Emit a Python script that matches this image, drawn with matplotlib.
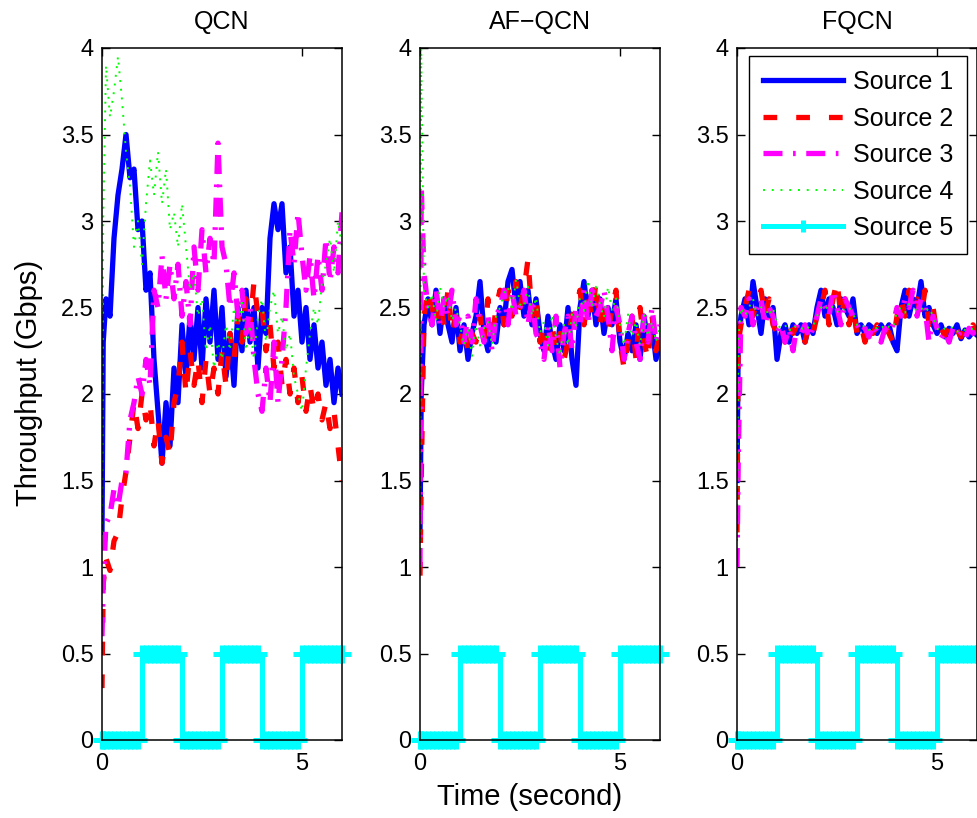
import matplotlib
matplotlib.use("Agg")
import matplotlib.pyplot as plt

plt.rcParams['font.family'] = ['Liberation Sans', 'DejaVu Sans']

# ---- data (time in s, throughput in Gbps) ----
t = [0, 0.03, 0.1, 0.2, 0.3, 0.4, 0.5, 0.6, 0.7, 0.8, 0.9,
     1.0, 1.1, 1.2, 1.3, 1.4, 1.5, 1.6, 1.7, 1.8, 1.9,
     2.0, 2.1, 2.2, 2.3, 2.4, 2.5, 2.6, 2.7, 2.8, 2.9,
     3.0, 3.1, 3.2, 3.3, 3.4, 3.5, 3.6, 3.7, 3.8, 3.9,
     4.0, 4.1, 4.2, 4.3, 4.4, 4.5, 4.6, 4.7, 4.8, 4.9,
     5.0, 5.1, 5.2, 5.3, 5.4, 5.5, 5.6, 5.7, 5.8, 5.9, 6.0]

titles = ['QCN', 'AF\u2212QCN', 'FQCN']
labels = ['Source 1', 'Source 2', 'Source 3', 'Source 4', 'Source 5']

qcn_s1 = [1.2, 2.3, 2.55, 2.45, 2.9, 3.15, 3.3, 3.5, 3.25, 3.3, 2.95,
          3.0, 2.6, 2.7, 2.2, 1.9, 1.6, 1.95, 1.7, 2.15, 1.95,
          2.4, 2.1, 2.45, 2.2, 2.5, 2.15, 2.55, 2.3, 2.6, 2.2,
          2.5, 2.1, 2.35, 2.05, 2.5, 2.25, 2.6, 2.3, 2.5, 2.15,
          2.5, 2.35, 2.9, 3.1, 2.95, 3.1, 2.7, 2.85, 2.45, 2.6,
          2.3, 2.5, 2.2, 2.4, 2.15, 2.3, 2.05, 2.2, 1.95, 2.15, 2.0]
qcn_s2 = [0.3, 0.9, 1.05, 0.98, 1.15, 1.2, 1.4, 1.55, 1.75, 1.95, 1.8,
          2.0, 1.85, 1.95, 1.7, 1.85, 1.6, 1.75, 1.65, 1.95, 2.05,
          2.3, 2.0, 2.25, 2.05, 2.2, 1.95, 2.2, 2.0, 2.15, 2.0,
          2.25, 2.05, 2.35, 2.2, 2.45, 2.3, 2.55, 2.4, 2.65, 2.45,
          2.5, 2.25, 2.4, 2.15, 2.3, 2.05, 2.2, 2.0, 2.15, 1.95,
          2.1, 1.9, 2.05, 1.9, 2.0, 1.85, 1.95, 1.8, 1.9, 1.7, 1.5]
qcn_s3 = [0.6, 0.9, 1.25, 1.3, 1.45, 1.35, 1.5, 1.55, 1.85, 1.95, 2.1,
          2.0, 2.2, 2.05, 2.6, 2.5, 2.8, 2.55, 2.75, 2.55, 2.75,
          2.45, 2.65, 2.4, 2.85, 2.6, 2.95, 2.7, 2.9, 2.75, 3.45,
          2.85, 2.75, 2.5, 2.7, 2.45, 2.6, 2.35, 2.5, 2.2, 2.0,
          1.9, 2.15, 1.95, 2.3, 1.95, 2.2, 2.5, 2.95, 2.75, 3.05,
          2.8, 2.6, 2.8, 2.55, 2.8, 2.6, 2.9, 2.65, 2.85, 2.7, 3.05]
qcn_s4 = [1.2, 3.0, 3.9, 3.6, 3.75, 3.95, 3.7, 3.4, 3.2, 2.85, 3.0,
          2.75, 3.1, 3.35, 3.15, 3.4, 3.1, 3.3, 2.95, 3.05, 2.85,
          3.1, 2.85, 2.6, 2.7, 2.45, 2.55, 2.25, 2.4, 2.15, 2.3,
          2.2, 2.4, 2.25, 2.5, 2.35, 2.55, 2.25, 2.4, 2.2, 2.45,
          2.55, 2.3, 2.5, 2.6, 2.35, 2.45, 2.25, 2.35, 2.1, 2.0,
          1.9, 2.15, 2.35, 2.5, 2.4, 2.65, 2.75, 2.9, 2.7, 3.0, 2.85]

af_s1 = [1.2, 2.0, 2.4, 2.55, 2.4, 2.6, 2.35, 2.55, 2.4, 2.3, 2.5,
         2.25, 2.4, 2.2, 2.35, 2.45, 2.65, 2.35, 2.25, 2.4, 2.3,
         2.5, 2.4, 2.65, 2.72, 2.5, 2.65, 2.45, 2.6, 2.4, 2.55,
         2.35, 2.25, 2.45, 2.3, 2.2, 2.4, 2.25, 2.5, 2.2, 2.05,
         2.5, 2.65, 2.45, 2.6, 2.4, 2.55, 2.35, 2.5, 2.4, 2.55,
         2.3, 2.2, 2.35, 2.25, 2.4, 2.2, 2.45, 2.3, 2.4, 2.2, 2.3]
af_s2 = [0.95, 1.5, 2.45, 2.6, 2.5, 2.4, 2.55, 2.4, 2.6, 2.35, 2.45,
         2.3, 2.4, 2.25, 2.35, 2.3, 2.45, 2.3, 2.55, 2.3, 2.5,
         2.6, 2.4, 2.6, 2.45, 2.65, 2.5, 2.6, 2.78, 2.45, 2.55,
         2.3, 2.4, 2.2, 2.4, 2.25, 2.35, 2.2, 2.3, 2.45, 2.5,
         2.6, 2.4, 2.55, 2.45, 2.65, 2.4, 2.55, 2.35, 2.5, 2.6,
         2.3, 2.15, 2.3, 2.45, 2.2, 2.5, 2.3, 2.2, 2.45, 2.25, 2.35]
af_s3 = [1.0, 3.2, 2.7, 2.5, 2.4, 2.6, 2.4, 2.55, 2.45, 2.6, 2.4,
         2.45, 2.3, 2.45, 2.3, 2.55, 2.4, 2.3, 2.45, 2.25, 2.45,
         2.5, 2.6, 2.4, 2.6, 2.45, 2.5, 2.6, 2.4, 2.55, 2.35,
         2.3, 2.2, 2.4, 2.25, 2.45, 2.15, 2.35, 2.45, 2.25, 2.5,
         2.4, 2.6, 2.4, 2.6, 2.45, 2.5, 2.6, 2.45, 2.25, 2.5,
         2.4, 2.2, 2.35, 2.45, 2.3, 2.2, 2.45, 2.3, 2.5, 2.3, 2.4]
af_s4 = [1.0, 4.0, 2.6, 2.5, 2.58, 2.42, 2.62, 2.5, 2.57, 2.42, 2.5,
         2.4, 2.28, 2.38, 2.22, 2.4, 2.28, 2.38, 2.42, 2.28, 2.45,
         2.5, 2.58, 2.62, 2.48, 2.66, 2.52, 2.5, 2.62, 2.45, 2.56,
         2.35, 2.42, 2.28, 2.46, 2.33, 2.22, 2.4, 2.28, 2.46, 2.38,
         2.56, 2.48, 2.66, 2.5, 2.62, 2.52, 2.44, 2.62, 2.48, 2.56,
         2.4, 2.28, 2.46, 2.33, 2.42, 2.28, 2.46, 2.33, 2.42, 2.3, 2.4]

fq_s1 = [1.5, 2.3, 2.45, 2.55, 2.4, 2.65, 2.5, 2.35, 2.55, 2.45, 2.5,
         2.2, 2.35, 2.4, 2.3, 2.4, 2.35, 2.4, 2.3, 2.4, 2.35,
         2.5, 2.6, 2.45, 2.55, 2.5, 2.4, 2.55, 2.5, 2.45, 2.55,
         2.35, 2.4, 2.35, 2.4, 2.38, 2.35, 2.4, 2.36, 2.4, 2.3,
         2.25, 2.5, 2.6, 2.45, 2.55, 2.5, 2.65, 2.45, 2.5, 2.4,
         2.35, 2.4, 2.33, 2.38, 2.35, 2.4, 2.32, 2.37, 2.33, 2.36, 2.34]
fq_s2 = [1.2, 2.3, 2.4, 2.5, 2.6, 2.45, 2.55, 2.6, 2.45, 2.55, 2.4,
         2.35, 2.4, 2.3, 2.4, 2.35, 2.4, 2.38, 2.3, 2.4, 2.35,
         2.45, 2.5, 2.6, 2.4, 2.55, 2.65, 2.45, 2.55, 2.4, 2.5,
         2.35, 2.4, 2.3, 2.4, 2.35, 2.4, 2.36, 2.4, 2.35, 2.3,
         2.45, 2.55, 2.45, 2.6, 2.5, 2.55, 2.45, 2.6, 2.4, 2.5,
         2.35, 2.38, 2.34, 2.4, 2.35, 2.37, 2.33, 2.38, 2.35, 2.4, 2.36]
fq_s3 = [1.0, 1.6, 2.5, 2.45, 2.55, 2.4, 2.5, 2.55, 2.4, 2.5, 2.45,
         2.35, 2.4, 2.3, 2.38, 2.25, 2.4, 2.35, 2.4, 2.32, 2.38,
         2.45, 2.55, 2.5, 2.45, 2.6, 2.5, 2.4, 2.55, 2.5, 2.45,
         2.4, 2.35, 2.38, 2.33, 2.4, 2.36, 2.3, 2.38, 2.35, 2.4,
         2.5, 2.45, 2.55, 2.5, 2.6, 2.45, 2.55, 2.5, 2.3, 2.45,
         2.38, 2.32, 2.36, 2.3, 2.38, 2.34, 2.36, 2.32, 2.38, 2.35, 2.37]
fq_s4 = [1.1, 2.3, 2.5, 2.45, 2.5, 2.55, 2.45, 2.5, 2.5, 2.45, 2.5,
         2.4, 2.38, 2.4, 2.36, 2.4, 2.38, 2.37, 2.4, 2.38, 2.39,
         2.45, 2.5, 2.48, 2.52, 2.5, 2.47, 2.5, 2.48, 2.5, 2.47,
         2.4, 2.38, 2.4, 2.37, 2.39, 2.38, 2.4, 2.37, 2.39, 2.38,
         2.48, 2.5, 2.47, 2.52, 2.5, 2.48, 2.5, 2.47, 2.5, 2.45,
         2.38, 2.36, 2.38, 2.37, 2.39, 2.36, 2.38, 2.37, 2.36, 2.38, 2.37]

# source 5 is an on/off flow, same in all three runs
s5 = [0, 0, 0, 0, 0, 0, 0, 0, 0, 0, 0,
      0.5, 0.5, 0.5, 0.5, 0.5, 0.5, 0.5, 0.5, 0.5, 0.5,
      0, 0, 0, 0, 0, 0, 0, 0, 0, 0,
      0.5, 0.5, 0.5, 0.5, 0.5, 0.5, 0.5, 0.5, 0.5, 0.5,
      0, 0, 0, 0, 0, 0, 0, 0, 0, 0,
      0.5, 0.5, 0.5, 0.5, 0.5, 0.5, 0.5, 0.5, 0.5, 0.5, 0.5]

runs = [[qcn_s1, qcn_s2, qcn_s3, qcn_s4],
        [af_s1, af_s2, af_s3, af_s4],
        [fq_s1, fq_s2, fq_s3, fq_s4]]

# ---- figure ----
fig = plt.figure(figsize=(9.77, 8.18), dpi=100)
W, H = 977.0, 818.0
lefts = [102, 420, 737]

for i in range(3):
    ax = fig.add_axes([lefts[i] / W, (H - 740) / H, 240 / W, 692 / H])
    s1, s2, s3, s4 = runs[i]
    ax.plot(t, s1, color='#0000ff', lw=3.8, label=labels[0])
    ax.plot(t, s2, color='#ff0000', lw=3.8, dashes=(2.6, 3.6), label=labels[1])
    ax.plot(t, s3, color='#ff00ff', lw=3.8, dashes=(3.6, 2.0, 0.5, 2.0), label=labels[2])
    ax.plot(t, s4, color='#00ff00', lw=1.4, dashes=(1.0, 3.5), label=labels[3])
    ax.plot(t, s5, color='#00ffff', lw=3.6, drawstyle='steps-post',
            marker='+', ms=12.5, mew=3.6, clip_on=False, label=labels[4])

    ax.set_xlim(0, 6)
    ax.set_ylim(0, 4)
    ax.set_xticks([0, 5])
    ax.set_yticks([0, 0.5, 1, 1.5, 2, 2.5, 3, 3.5, 4])
    ax.set_yticklabels(['0', '0.5', '1', '1.5', '2', '2.5', '3', '3.5', '4'])
    ax.tick_params(direction='in', top=True, right=True, length=6, width=1,
                   labelsize=17, pad=6)
    ax.tick_params(axis='x', pad=9)
    for sp in ax.spines.values():
        sp.set_linewidth(1.1)
    ax.set_title(titles[i], fontsize=18, pad=14)

    if i == 2:
        leg = ax.legend(loc='upper right', fontsize=18, numpoints=1,
                        handlelength=3.2, labelspacing=0.5, borderpad=0.55,
                        handletextpad=0.4, borderaxespad=0, fancybox=False,
                        framealpha=1, edgecolor='black',
                        bbox_to_anchor=(0.958, 0.988))
        leg.get_frame().set_linewidth(1.0)
        # smaller cross on the legend line, as in the source figure
        leg.get_lines()[4].set_markersize(9)

fig.text(29 / W, (H - 383) / H, 'Throughput (Gbps)', rotation=90,
         ha='center', va='center', fontsize=21)
fig.text(530 / W, (H - 797) / H, 'Time (second)', ha='center', va='center',
         fontsize=21)

fig.savefig('out.png', dpi=100)
